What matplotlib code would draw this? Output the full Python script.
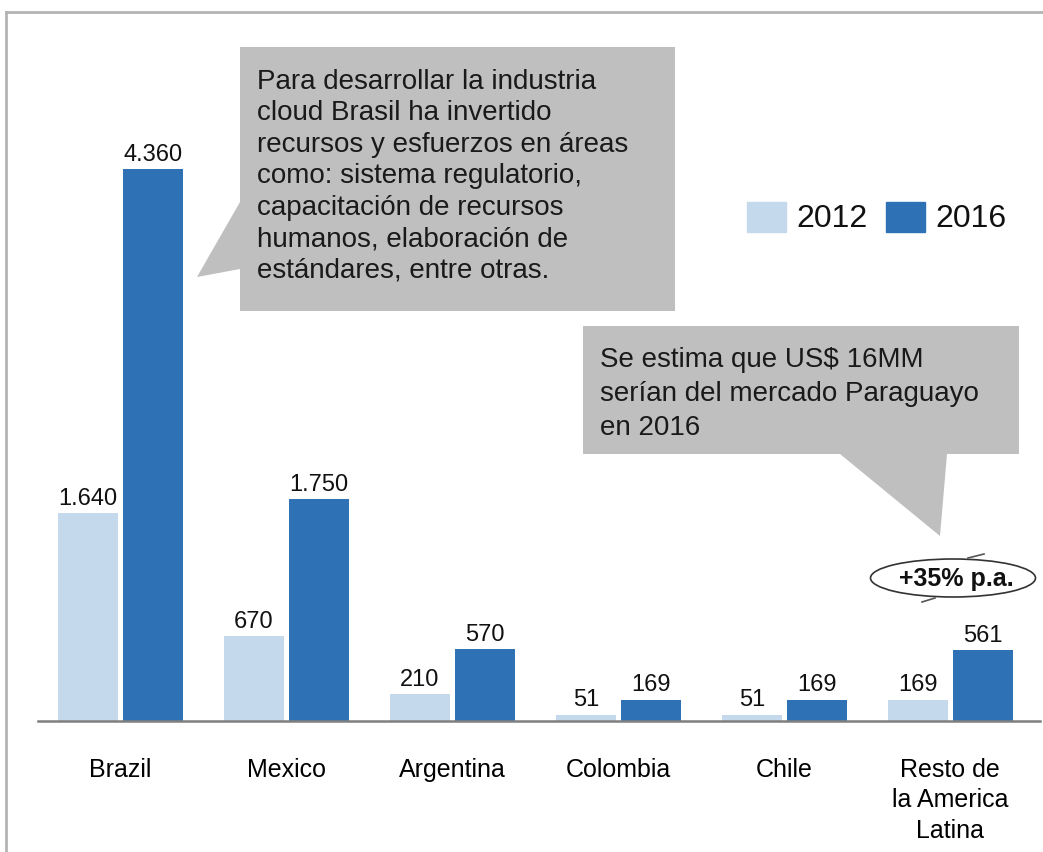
import matplotlib
matplotlib.use('Agg')
import matplotlib.pyplot as plt
from matplotlib.patches import Rectangle, Polygon, Ellipse
from matplotlib.lines import Line2D

plt.rcParams['font.family'] = ['Liberation Sans', 'DejaVu Sans']

# cloud market by country (US$ MM)
countries = ['Brazil', 'Mexico', 'Argentina', 'Colombia', 'Chile',
             'Resto de\nla America\nLatina']
years = ['2012', '2016']
values_2012 = [1640, 670, 210, 51, 51, 169]
values_2016 = [4360, 1750, 570, 169, 169, 561]

note_brazil = ('Para desarrollar la industria\n'
               'cloud Brasil ha invertido\n'
               'recursos y esfuerzos en áreas\n'
               'como: sistema regulatorio,\n'
               'capacitación de recursos\n'
               'humanos, elaboración de\n'
               'estándares, entre otras.')
note_paraguay = ('Se estima que US$ 16MM\n'
                 'serían del mercado Paraguayo\n'
                 'en 2016')
growth_label = '+35% p.a.'

color_2012 = '#c5d9ec'
color_2016 = '#2e72b5'
note_gray = '#bfbfbf'

W, H = 1043, 853
fig = plt.figure(figsize=(W / 100, H / 100), dpi=100)


def px(x, y):
    # pixel position (top-left origin) -> figure fraction
    return x / W, 1 - y / H


# axes box in pixels
left, right, top, bottom = 38, 1040, 20, 722
ax = fig.add_axes([left / W, 1 - bottom / H, (right - left) / W, (bottom - top) / H])

x = list(range(len(countries)))
width = 0.362
off = 0.196
ax.bar([i - off for i in x], values_2012, width, color=color_2012, label=years[0])
ax.bar([i + off for i in x], values_2016, width, color=color_2016, label=years[1])

ax.set_xlim(-0.497, 5.54)
ax.set_ylim(0, 4360 * (bottom - top) / 552)

for xs, vals in (([i - off for i in x], values_2012), ([i + off for i in x], values_2016)):
    for xi, v in zip(xs, vals):
        ax.annotate(f'{v:,}'.replace(',', '.'), xy=(xi, v), xytext=(0, 3),
                    textcoords='offset points', ha='center', va='bottom',
                    fontsize=17, color='#111111')

ax.set_xticks(x)
ax.set_xticklabels(countries, fontsize=18, linespacing=1.33, va='top')
ax.tick_params(axis='x', length=0, pad=26)
ax.set_yticks([])
for s in ('top', 'right', 'left'):
    ax.spines[s].set_visible(False)
ax.spines['bottom'].set_color('#7f7f7f')
ax.spines['bottom'].set_linewidth(1.8)

# outer frame lines
fig.add_artist(Line2D([px(6, 0)[0], 1], [px(0, 13)[1]] * 2, color='#b4b4b4', lw=2))
fig.add_artist(Line2D([px(6, 0)[0]] * 2, [px(0, 13)[1], 0], color='#b4b4b4', lw=2))

# legend
for (lx, col, lab) in ((747, color_2012, years[0]), (886, color_2016, years[1])):
    x0, y0 = px(lx, 233)
    fig.add_artist(Rectangle((x0, y0), 39 / W, 30 / H, transform=fig.transFigure,
                             color=col))
    fig.text(*px(lx + 49, 219), lab, fontsize=23, va='center', ha='left', color='#111111')

# Brazil callout
box1 = [px(240, 48), px(675, 48), px(675, 312), px(240, 312),
        px(240, 270), px(197, 278), px(240, 203)]
fig.add_artist(Polygon(box1, closed=True, transform=fig.transFigure,
                       facecolor=note_gray, edgecolor='none'))
fig.text(*px(257, 69), note_brazil, fontsize=20, va='top', ha='left',
         linespacing=1.27, color='#1a1a1a')

# Paraguay callout
box2 = [px(583, 327), px(1019, 327), px(1019, 455), px(947, 455),
        px(940, 537), px(840, 455), px(583, 455)]
fig.add_artist(Polygon(box2, closed=True, transform=fig.transFigure,
                       facecolor=note_gray, edgecolor='none'))
fig.text(*px(600, 347), note_paraguay, fontsize=20, va='top', ha='left',
         linespacing=1.4, color='#1a1a1a')

# growth badge
cx, cy = px(953, 579)
fig.add_artist(Ellipse((cx, cy), 165 / W, 38 / H, transform=fig.transFigure,
                       facecolor='white', edgecolor='#333333', lw=1.2))
fig.text(cx + 3 / W, cy, growth_label, fontsize=18, fontweight='bold',
         ha='center', va='center', color='#111111')
fig.add_artist(Line2D([px(968, 0)[0], px(984, 0)[0]], [px(0, 559)[1], px(0, 555)[1]],
                      color='#555555', lw=1.2))
fig.add_artist(Line2D([px(922, 0)[0], px(935, 0)[0]], [px(0, 603)[1], px(0, 599)[1]],
                      color='#555555', lw=1.2))

fig.savefig('out.png', dpi=100)
